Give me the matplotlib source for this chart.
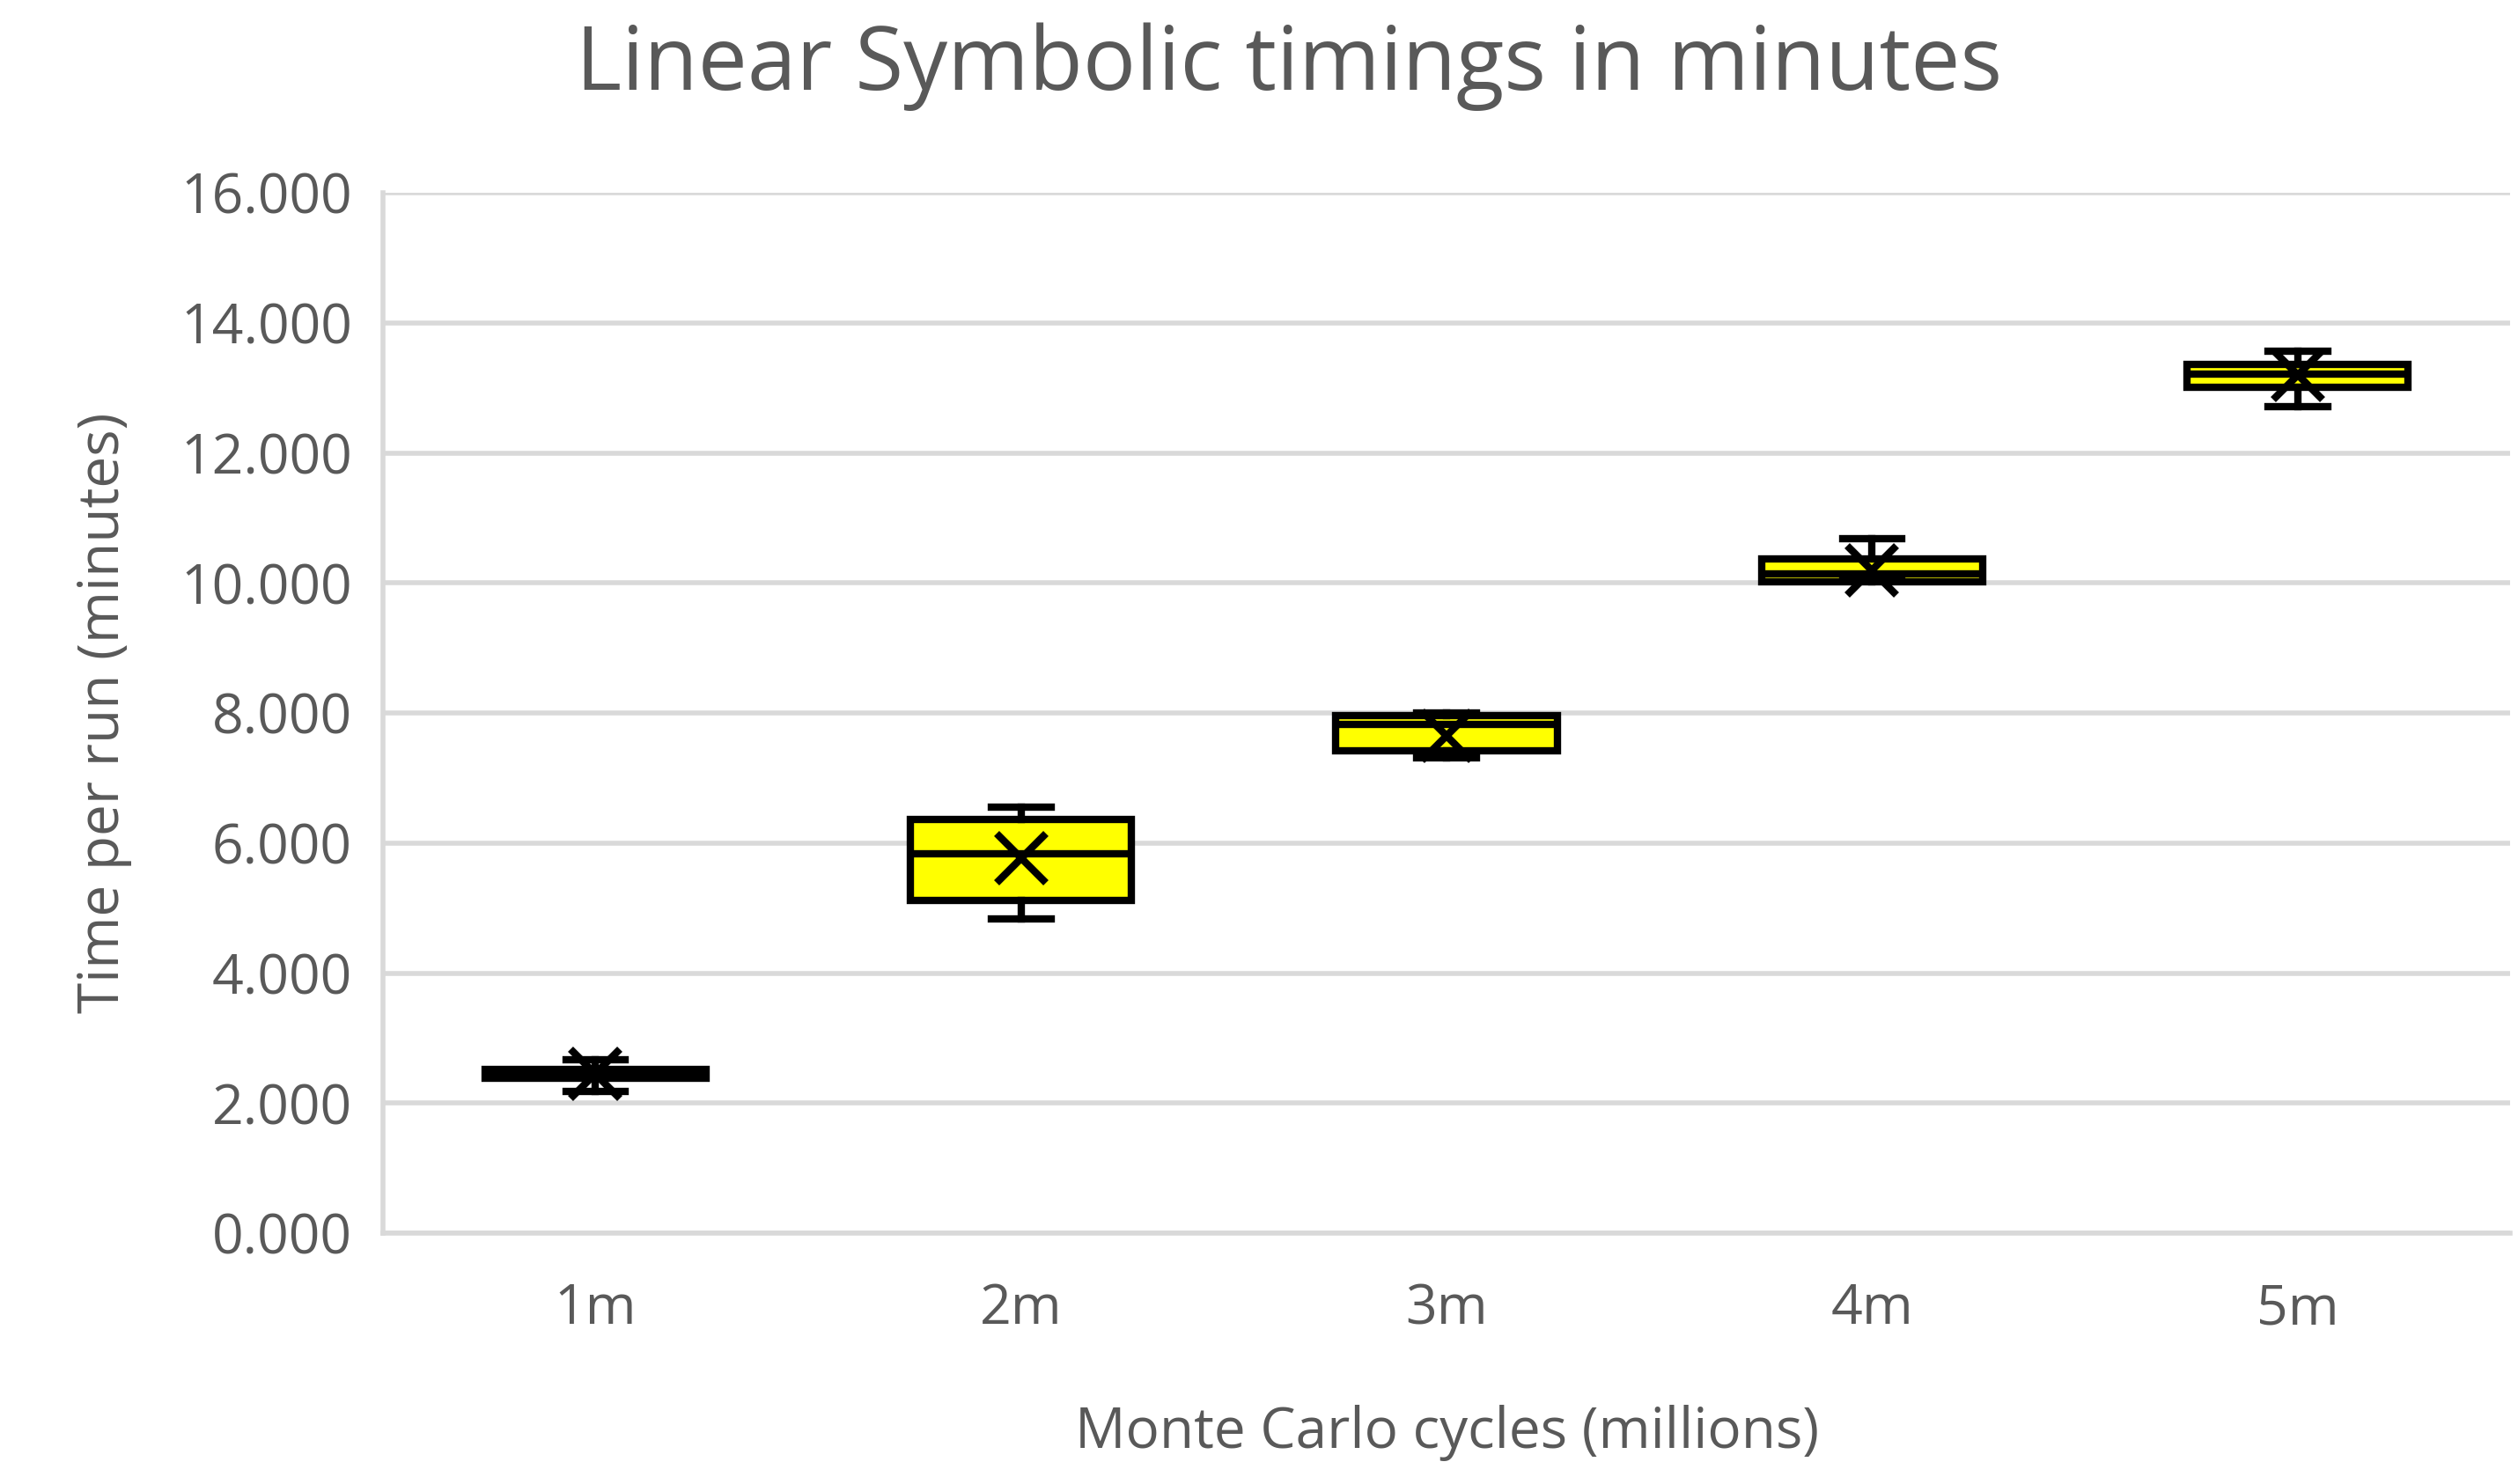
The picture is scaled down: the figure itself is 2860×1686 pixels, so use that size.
import matplotlib
matplotlib.use("Agg")
import matplotlib.pyplot as plt

labels = ["1m", "2m", "3m", "4m", "5m"]
q1 = [2.38, 5.12, 7.42, 10.02, 13.01]
q3 = [2.52, 6.37, 7.96, 10.37, 13.36]
med = [2.45, 5.83, 7.83, 10.14, 13.22]
mean = [2.45, 5.77, 7.65, 10.20, 13.20]
whislo = [2.18, 4.84, 7.31, 10.05, 12.71]
whishi = [2.67, 6.55, 8.00, 10.68, 13.56]

GREY = "#595959"
plt.rcParams["font.family"] = ["Open Sans", "DejaVu Sans"]

stats = [dict(label=l, q1=a, q3=b, med=m, mean=mu, whislo=lo, whishi=hi, fliers=[])
         for l, a, b, m, mu, lo, hi in zip(labels, q1, q3, med, mean, whislo, whishi)]

fig = plt.figure(figsize=(28.6, 16.86), dpi=100)
ax = fig.add_axes([0.152, 0.169, 0.845, 0.701])
ax.bxp(stats, positions=range(1, 6), widths=0.52, patch_artist=True, showmeans=True,
       boxprops=dict(facecolor="#ffff00", edgecolor="black", linewidth=6),
       medianprops=dict(color="black", linewidth=6),
       whiskerprops=dict(color="black", linewidth=6),
       capprops=dict(color="black", linewidth=6),
       capwidths=0.14,
       meanprops=dict(marker="x", markeredgecolor="black", markersize=40, markeredgewidth=6))

ax.set_xlim(0.5, 5.5)
ax.set_ylim(0, 16)
ax.set_yticks(range(0, 17, 2))
ax.set_yticklabels([f"{v:.3f}" for v in range(0, 17, 2)])
ax.yaxis.grid(True, color="#d9d9d9", linewidth=4)
ax.set_axisbelow(True)
for s in ["top", "right"]:
    ax.spines[s].set_visible(False)
ax.spines["left"].set_color("#d9d9d9")
ax.spines["left"].set_linewidth(4)
ax.spines["bottom"].set_color("#d9d9d9")
ax.spines["bottom"].set_linewidth(4)
ax.tick_params(length=0, labelsize=45, labelcolor=GREY, pad=25)
ax.tick_params(axis="x", pad=40)

fig.text(0.512, 0.955, "Linear Symbolic timings in minutes", fontsize=72, color=GREY,
         ha="center", va="center")
ax.set_xlabel("Monte Carlo cycles (millions)", fontsize=46, color=GREY, labelpad=55)
ax.set_ylabel("Time per run (minutes)", fontsize=46, color=GREY, labelpad=40)

fig.savefig("out.png", dpi=100, facecolor="white")
